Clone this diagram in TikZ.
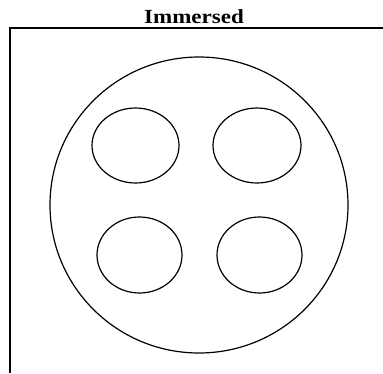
\documentclass[tikz,border=0pt]{standalone}
\usepackage{fontspec}
\setmainfont{Liberation Serif}
\usepackage{tikz}

\begin{document}
\begin{tikzpicture}[
    x=1pt, y=-1pt,
    frame/.style={line width=1.6pt},
    outer/.style={line width=1.2pt},
    hole/.style={line width=1.2pt},
    titletext/.style={
        font=\fontsize{20}{22}\selectfont\bfseries,
        inner sep=0pt,
        anchor=base,
        xscale=1.15
    }
]
\useasboundingbox (0,0) rectangle (383,373);

% Title
\node[titletext] (title) at (194,23) {Immersed};

% Frame (top and left sides only)
\coordinate (topright) at (383,28);
\coordinate (corner) at (10,28);
\coordinate (bottomleft) at (10,373);
\draw[frame] (topright) -- (corner) -- (bottomleft);

% Disc
\draw[outer] (199,205) ellipse [x radius=149, y radius=148];

% Four holes
\draw[hole] (135.5,145.5) ellipse [x radius=43.5, y radius=37.5];
\draw[hole] (257,145.5) ellipse [x radius=44, y radius=37.5];
\draw[hole] (139.5,255) ellipse [x radius=42.5, y radius=38];
\draw[hole] (259.5,255) ellipse [x radius=42.5, y radius=38];

\end{tikzpicture}
\end{document}
